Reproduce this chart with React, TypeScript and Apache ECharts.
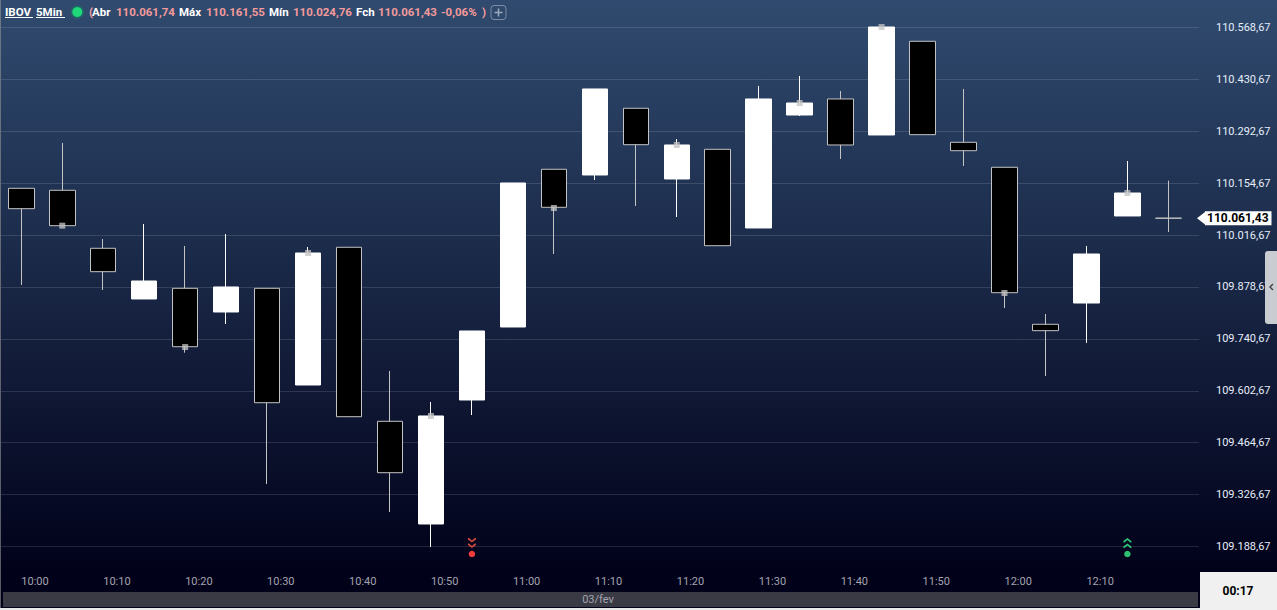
import React, { useEffect, useRef } from "react";
import * as echarts from "echarts";

const FONT = "Roboto, 'Noto Sans', sans-serif";

const times = ["10:00","10:05","10:10","10:15","10:20","10:25","10:30","10:35","10:40","10:45","10:50","10:55","11:00","11:05","11:10","11:15","11:20","11:25","11:30","11:35","11:40","11:45","11:50","11:55","12:00","12:05","12:10","12:15","12:20"];
const opens = [110141.1,110135.8,109981.6,109846.8,109875.2,109812.2,109875.2,109618.1,109984.3,109521.6,109248.5,109578.2,109772.3,110191.7,110176.5,110353.9,110165.9,110244.8,110035.6,110336.0,110378.6,110282.9,110532.0,110263.4,110197.0,109779.5,109836.1,110067.5,110061.74];
const closes = [110086.9,110041.7,109919.4,109894.6,109719.9,109878.7,109571.0,109969.1,109533.8,109384.9,109535.7,109761.7,110155.2,110090.6,110405.2,110257.1,110256.3,109988.5,110378.6,110367.9,110256.3,110570.0,110283.7,110241.1,109863.5,109762.5,109966.4,110128.6,110061.43];
const lows = [109884.0,110041.7,109870.7,109846.8,109704.0,109780.3,109354.9,109618.1,109533.8,109280.4,109187.3,109538.3,109772.3,109966.4,110163.2,110094.1,110064.8,109988.5,110035.6,110333.4,110219.0,110282.9,110283.7,110200.4,109822.8,109642.0,109729.8,110067.5,110024.76];
const highs = [110141.1,110261.6,110006.3,110046.2,109987.7,110019.6,109875.2,109985.1,109984.3,109655.3,109572.9,109761.7,110155.2,110191.7,110405.2,110353.9,110272.2,110244.8,110413.1,110439.7,110399.9,110570.0,110532.0,110405.2,110197.0,109806.9,109987.7,110213.7,110161.55];

const yTicks = [109188.67,109326.67,109464.67,109602.67,109740.67,109878.67,110016.67,110154.67,110292.67,110430.67,110568.67];
const xTickLabels = ["10:00","10:10","10:20","10:30","10:40","10:50","11:00","11:10","11:20","11:30","11:40","11:50","12:00","12:10"];
const markerTimes = ["10:05","10:20","10:35","10:50","11:05","11:20","11:35","11:45","12:00","12:15"];
const markerValues = [110041.7,109719.0,109969.1,109535.7,110088.7,110256.3,110367.9,110570.0,109862.7,110128.6];
const sellTime = "10:55";
const buyTime = "12:15";
const signalDotValue = 109168.7;
const signalArrowValue = 109198.0;
const lastClose = 110061.43;

const headerTexts: [string, number, string][] = [
  ["IBOV", 5, "#ffffff"], ["5Min", 36, "#ffffff"],
  ["(", 89, "#f49a9a"], ["Abr", 92, "#ffffff"], ["110.061,74", 116, "#f49a9a"],
  ["Máx", 179, "#ffffff"], ["110.161,55", 206, "#f49a9a"],
  ["Mín", 269, "#ffffff"], ["110.024,76", 293, "#f49a9a"],
  ["Fch", 356, "#ffffff"], ["110.061,43", 378, "#f49a9a"],
  ["-0,06%", 441, "#f49a9a"], [")", 482, "#f49a9a"],
];

const toMin = (t: string) => { const [h, m] = t.split(":").map(Number); return h * 60 + m; };
const fmtMin = (v: number) => `${Math.floor(v / 60)}:${String(Math.round(v % 60)).padStart(2, "0")}`;
const fmtPrice = (v: number) => {
  const [i, d] = v.toFixed(2).split(".");
  return `${i.slice(0, 3)}.${i.slice(3)},${d}`;
};

const CHEV_DOWN = "path://M0 0L1.2 0L4 2.6L6.8 0L8 0L8 1.6L4 4.6L0 1.6ZM0 5.4L1.2 5.4L4 8L6.8 5.4L8 5.4L8 7L4 10L0 7Z";
const CHEV_UP = "path://M0 3L4 0L8 3L8 4.6L6.8 4.6L4 2L1.2 4.6L0 4.6ZM0 8.4L4 5.4L8 8.4L8 10L6.8 10L4 7.4L1.2 10L0 10Z";

export default function App() {
  const ref = useRef<HTMLDivElement>(null);
  useEffect(() => {
    document.body.style.margin = "0";
    document.body.style.overflow = "hidden";
    const chart = echarts.init(ref.current!, undefined, { renderer: "svg" });
    const hdr = headerTexts.map(([text, x, fill]) => ({
      type: "text", x, y: 12, z: 100,
      style: { text, fill, font: `bold 11.5px ${FONT}`, textVerticalAlign: "middle" },
    }));
    chart.setOption({
      animation: false,
      backgroundColor: "transparent",
      grid: { left: 1, top: 0, width: 1198, height: 570 },
      xAxis: {
        type: "value", min: 597.522, max: 743.74, splitLine: { show: false },
        axisLine: { show: false },
        axisTick: { show: false, customValues: xTickLabels.map(toMin) },
        axisLabel: {
          customValues: xTickLabels.map(toMin), formatter: (v: number) => fmtMin(v),
          align: "left", color: "#a4a4ae", fontFamily: FONT, fontSize: 11, margin: 6,
          hideOverlap: false, showMinLabel: true, showMaxLabel: true,
        },
      },
      yAxis: [
        {
          type: "value", position: "right", min: 109126.16, max: 110641.79,
          axisLine: { show: false },
          axisTick: { show: false, customValues: yTicks },
          splitLine: { show: true, lineStyle: { color: "rgba(255,255,255,0.13)", width: 1 } },
          axisLabel: {
            customValues: yTicks, formatter: (v: number) => fmtPrice(v),
            color: "#e6eef8", fontFamily: FONT, fontSize: 11, margin: 17, align: "left",
          },
        },
        {
          type: "value", position: "right", min: 109126.16, max: 110641.79,
          axisLine: { show: false }, splitLine: { show: false },
          axisTick: { show: false, customValues: [lastClose] },
          axisLabel: {
            customValues: [lastClose], formatter: (v: number) => fmtPrice(v),
            color: "#000", fontWeight: "bold", fontFamily: FONT, fontSize: 12,
            backgroundColor: "#fff", padding: [1, 3, 0, 2], margin: 6, align: "left", lineHeight: 13,
          },
        },
      ],
      series: [
        {
          type: "candlestick", barWidth: 26,
          itemStyle: { color: "#fff", color0: "#000", borderColor: "#fff", borderColor0: "#c4c4c4", borderWidth: 1, borderJoin: "miter" },
          data: times.map((t, i) => [toMin(t), opens[i], closes[i], lows[i], highs[i]]),
          markPoint: {
            silent: true, symbol: "path://M0 5L10 0L10 10Z", symbolSize: [9, 14], symbolOffset: [2.5, 0],
            itemStyle: { color: "#fff" }, label: { show: false },
            data: [{ coord: [743.74, lastClose] }],
          },
        },
        {
          type: "scatter", symbol: "rect", symbolSize: 6, z: 5,
          itemStyle: { color: "rgba(195,195,195,0.77)", opacity: 1 },
          data: markerTimes.map((t, i) => [toMin(t), markerValues[i]]),
        },
        { type: "scatter", symbol: CHEV_DOWN, symbolSize: [8, 10], itemStyle: { color: "#d0483e", opacity: 1 }, data: [[toMin(sellTime), signalArrowValue]] },
        { type: "scatter", symbol: "circle", symbolSize: 6.5, itemStyle: { color: "#f23c3c", opacity: 1 }, data: [[toMin(sellTime), signalDotValue]] },
        { type: "scatter", symbol: CHEV_UP, symbolSize: [8, 10], itemStyle: { color: "#2fc476", opacity: 1 }, data: [[toMin(buyTime), signalArrowValue]] },
        { type: "scatter", symbol: "circle", symbolSize: 6.5, itemStyle: { color: "#2fbf71", opacity: 1 }, data: [[toMin(buyTime), signalDotValue]] },
      ],
      graphic: [
        ...hdr,
        { type: "rect", z: 99, shape: { x: 0, y: 0, width: 1, height: 610 }, style: { fill: "rgba(150,150,150,0.6)" } },
        { type: "line", z: 100, shape: { x1: 5, y1: 17.5, x2: 33, y2: 17.5 }, style: { stroke: "#fff", lineWidth: 1 } },
        { type: "line", z: 100, shape: { x1: 36, y1: 17.5, x2: 65, y2: 17.5 }, style: { stroke: "#fff", lineWidth: 1 } },
        { type: "circle", z: 100, shape: { cx: 77.3, cy: 12, r: 6.5 }, style: { fill: "#1f6a68" } },
        { type: "circle", z: 101, shape: { cx: 77.3, cy: 12, r: 5 }, style: { fill: "#1fd87a" } },
        { type: "rect", z: 100, shape: { x: 491, y: 5.5, width: 15, height: 14, r: 3 }, style: { fill: "transparent", stroke: "#7d8da6", lineWidth: 1 } },
        { type: "line", z: 100, shape: { x1: 494.5, y1: 12.5, x2: 502.5, y2: 12.5 }, style: { stroke: "#9aa8bc", lineWidth: 1.5 } },
        { type: "line", z: 100, shape: { x1: 498.5, y1: 8.5, x2: 498.5, y2: 16.5 }, style: { stroke: "#9aa8bc", lineWidth: 1.5 } },
        { type: "rect", z: 90, shape: { x: 1265, y: 251, width: 12, height: 73, r: [3, 0, 0, 3] }, style: { fill: "#c9ccd1" } },
        { type: "polyline", z: 91, shape: { points: [[1273, 284], [1270, 287], [1273, 290]] }, style: { stroke: "#444", lineWidth: 1.4, fill: "none" } },
        { type: "rect", z: 100, shape: { x: 3, y: 592, width: 1195, height: 15 }, style: { fill: "#3a3a45" } },
        { type: "rect", z: 100, shape: { x: 0, y: 608, width: 1277, height: 2 }, style: { fill: "#e8e8e8" } },
        { type: "text", z: 101, x: 598, y: 599.5, style: { text: "03/fev", fill: "#a4a4ae", font: `11px ${FONT}`, textAlign: "center", textVerticalAlign: "middle" } },
        { type: "rect", z: 100, shape: { x: 1200, y: 572, width: 77, height: 38 }, style: { fill: "#f0f0f0" } },
        { type: "text", z: 101, x: 1238, y: 591, style: { text: "00:17", fill: "#000", font: `bold 12px ${FONT}`, textAlign: "center", textVerticalAlign: "middle" } },
      ],
    });
    return () => chart.dispose();
  }, []);
  return (
    <div style={{ position: "relative", width: 1277, height: 610, overflow: "hidden", background: "linear-gradient(180deg,#304b6f 0,#01011a 570px,#01011a 100%)" }}>
      <div ref={ref} style={{ width: 1277, height: 610 }} />
    </div>
  );
}
